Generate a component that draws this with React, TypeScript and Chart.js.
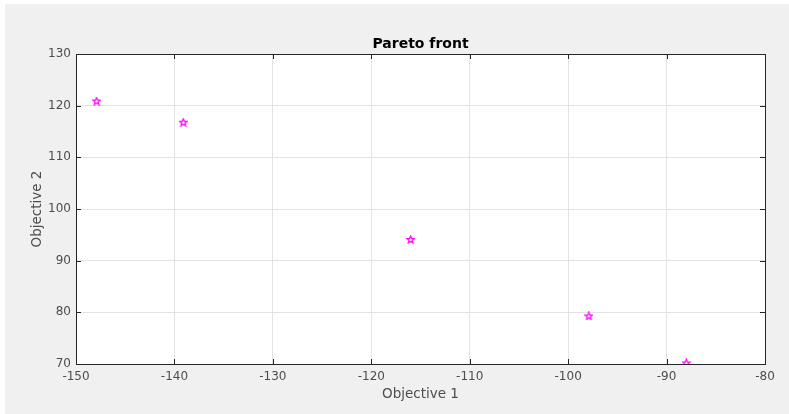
import React, { useEffect, useRef } from "react";
import { Chart, registerables } from "chart.js";

Chart.register(...registerables);

const objective1: number[] = [-147.9, -139.1, -116.0, -97.9, -88.0];
const objective2: number[] = [120.9, 116.8, 94.1, 79.3, 70.2];
const xTicks: number[] = [-150, -140, -130, -120, -110, -100, -90, -80];
const yTicks: number[] = [70, 80, 90, 100, 110, 120, 130];
const chartTitle = "Pareto front";
const xTitle = "Objective 1";
const yTitle = "Objective 2";

const FONT = "'DejaVu Sans', sans-serif";
const AXIS = "#262626";
const TEXT = "#4d4d4d";

function makeStar(): HTMLCanvasElement {
  const c = document.createElement("canvas");
  const s = 9;
  c.width = s;
  c.height = s;
  const ctx = c.getContext("2d")!;
  const cx = s / 2, cy = s / 2 + 0.3;
  const R = 3.9, r = 1.7;
  ctx.beginPath();
  for (let i = 0; i < 10; i++) {
    const rad = i % 2 === 0 ? R : r;
    const a = -Math.PI / 2 + (i * Math.PI) / 5;
    const px = cx + rad * Math.cos(a);
    const py = cy + rad * Math.sin(a);
    if (i === 0) ctx.moveTo(px, py);
    else ctx.lineTo(px, py);
  }
  ctx.closePath();
  ctx.strokeStyle = "#ff00ff";
  ctx.lineWidth = 1.3;
  ctx.stroke();
  return c;
}

const framePlugin = {
  id: "frame",
  afterDatasetsDraw(chart: any) {
    const { ctx, chartArea, scales } = chart;
    const { left, right, top, bottom } = chartArea;
    ctx.save();
    ctx.strokeStyle = AXIS;
    ctx.lineWidth = 1;
    const tl = 5;
    ctx.beginPath();
    xTicks.forEach((v) => {
      const x = Math.round(scales.x.getPixelForValue(v)) + 0.5;
      ctx.moveTo(x, bottom);
      ctx.lineTo(x, bottom - tl);
      ctx.moveTo(x, top);
      ctx.lineTo(x, top + tl);
    });
    yTicks.forEach((v) => {
      const y = Math.round(scales.y.getPixelForValue(v)) + 0.5;
      ctx.moveTo(left, y);
      ctx.lineTo(left + tl, y);
      ctx.moveTo(right, y);
      ctx.lineTo(right - tl, y);
    });
    ctx.stroke();
    ctx.strokeRect(Math.round(left) + 0.5, Math.round(top) + 0.5, Math.round(right - left), Math.round(bottom - top));
    const cx = (left + right) / 2;
    ctx.fillStyle = "#000000";
    ctx.font = `bold 14px ${FONT}`;
    ctx.textAlign = "center";
    ctx.textBaseline = "middle";
    ctx.fillText(chartTitle, cx, 40);
    ctx.fillStyle = TEXT;
    ctx.font = `13.5px ${FONT}`;
    ctx.fillText(xTitle, cx, bottom + 30);
    ctx.save();
    ctx.translate(32, (top + bottom) / 2);
    ctx.rotate(-Math.PI / 2);
    ctx.fillText(yTitle, 0, 0);
    ctx.restore();
    ctx.restore();
  },
};

export default function App() {
  const ref = useRef<HTMLCanvasElement | null>(null);
  useEffect(() => {
    if (!ref.current) return;
    const star = makeStar();
    const chart = new Chart(ref.current, {
      type: "scatter",
      data: {
        datasets: [
          {
            label: "Pareto",
            data: objective1.map((x, i) => ({ x, y: objective2[i] })),
            pointStyle: star as any,
            pointRadius: 4,
            borderColor: "#ff00ff",
            backgroundColor: "#ff00ff",
          },
        ],
      },
      options: {
        animation: false,
        responsive: false,
        layout: { padding: { left: 0, top: 50, right: 24, bottom: 0 } },
        plugins: {
          legend: { display: false },
          title: { display: false },
          tooltip: { enabled: false },
        },
        scales: {
          x: {
            type: "linear",
            min: -150,
            max: -80,
            afterFit: (s: any) => { s.height = 50; },
            afterBuildTicks: (s: any) => { s.ticks = xTicks.map((v) => ({ value: v })); },
            border: { display: false },
            grid: { color: "#e3e3e3", drawTicks: false, lineWidth: 1 },
            ticks: { padding: 6, color: TEXT, font: { family: FONT, size: 12 }, maxRotation: 0, autoSkip: false },
          },
          y: {
            type: "linear",
            min: 70,
            max: 130,
            afterFit: (s: any) => { s.width = 71; },
            afterBuildTicks: (s: any) => { s.ticks = yTicks.map((v) => ({ value: v })); },
            border: { display: false },
            grid: { color: "#e3e3e3", drawTicks: false, lineWidth: 1 },
            ticks: { padding: 5, color: TEXT, font: { family: FONT, size: 12 }, autoSkip: false },
          },
        },
      },
      plugins: [
        framePlugin,
        {
          id: "bg",
          beforeDraw(c: any) {
            const { ctx, chartArea } = c;
            ctx.save();
            ctx.fillStyle = "#f0f0f0";
            ctx.fillRect(0, 0, c.width, c.height);
            ctx.fillStyle = "#ffffff";
            ctx.fillRect(chartArea.left, chartArea.top, chartArea.right - chartArea.left, chartArea.bottom - chartArea.top);
            ctx.restore();
          },
        },
      ],
    });
    return () => chart.destroy();
  }, []);
  return (
    <div style={{ position: "absolute", left: 5, top: 4, width: 784, height: 410 }}>
      <canvas ref={ref} width={784} height={410} style={{ display: "block", width: 784, height: 410 }} />
    </div>
  );
}
